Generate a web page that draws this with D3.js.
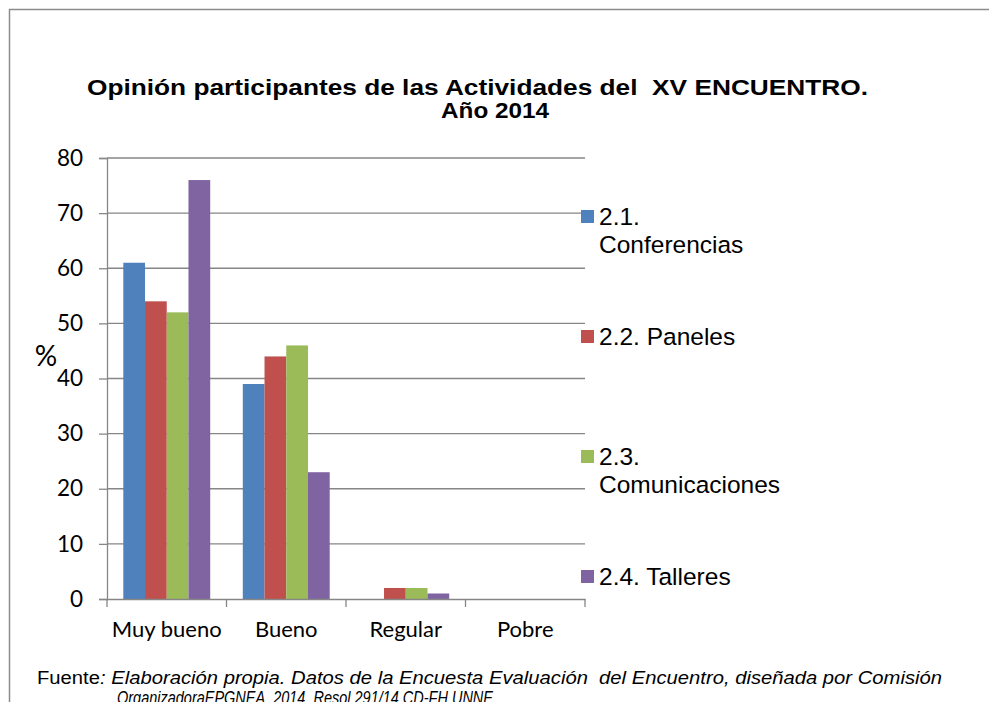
<!DOCTYPE html>
<html>
<head>
<meta charset="utf-8">
<script src="https://cdn.jsdelivr.net/npm/d3@7"></script>
<style>
html,body{margin:0;padding:0;background:#fff;}
svg{display:block;}
text{white-space:pre;}
</style>
</head>
<body>
<svg id="chart" width="989" height="702"></svg>
<script>
const categories = ["Muy bueno", "Bueno", "Regular", "Pobre"];
const seriesNames = ["2.1. Conferencias", "2.2. Paneles", "2.3. Comunicaciones", "2.4. Talleres"];
const legendLines = [["2.1.", "Conferencias"], ["2.2. Paneles"], ["2.3.", "Comunicaciones"], ["2.4. Talleres"]];
const conferencias = [61, 39, 0, 0];
const paneles = [54, 44, 2, 0];
const comunicaciones = [52, 46, 2, 0];
const talleres = [76, 23, 1, 0];
const yTicks = [0, 10, 20, 30, 40, 50, 60, 70, 80];
const colors = ["#4F81BD", "#C0504D", "#9BBB59", "#8064A2"];
const titleLines = ["Opinión participantes de las Actividades del  XV ENCUENTRO.", "Año 2014"];

const series = [conferencias, paneles, comunicaciones, talleres];

const svg = d3.select("#chart");
const W = 989, H = 702;
const pLeft = 107, pRight = 585, pTop = 158, pBottom = 599;

// frame
svg.append("path")
  .attr("d", `M9.5,${H} L9.5,9.5 L${W},9.5`)
  .attr("fill", "none").attr("stroke", "#8c8c8c").attr("stroke-width", 1.5);

// title
const title = svg.append("text")
  .attr("font-family", "Liberation Sans, Arial, sans-serif")
  .attr("font-weight", "bold").attr("font-size", 22.5).attr("fill", "#000");
title.append("tspan").attr("x", 87).attr("y", 95)
  .attr("textLength", 781).attr("lengthAdjust", "spacingAndGlyphs").text(titleLines[0]);
title.append("tspan").attr("x", 441).attr("y", 118)
  .attr("textLength", 108).attr("lengthAdjust", "spacingAndGlyphs").text(titleLines[1]);

const x = d3.scaleBand().domain(categories).range([pLeft, pRight]).paddingInner(0).paddingOuter(0);
const y = d3.scaleLinear().domain([0, 80]).range([pBottom, pTop]);

const bw = x.bandwidth() / 5.5;

// gridlines
svg.append("g").selectAll("line").data(yTicks.filter(d => d !== 0)).join("line")
  .attr("x1", pLeft).attr("x2", pRight)
  .attr("y1", d => y(d)).attr("y2", d => y(d))
  .attr("stroke", "#868686").attr("stroke-width", 1.3);

// y axis
const yAxis = svg.append("g").attr("transform", `translate(${pLeft},0)`)
  .call(d3.axisLeft(y).tickValues(yTicks).tickSize(8).tickPadding(16).tickFormat(d3.format("d")));
yAxis.select(".domain").attr("stroke", "#868686").attr("stroke-width", 1.3);
yAxis.selectAll(".tick line").attr("stroke", "#868686").attr("stroke-width", 1.3);
yAxis.selectAll(".tick text").attr("font-family", "Lato, Carlito, Calibri, sans-serif")
  .attr("font-size", 22.5).attr("fill", "#000");

// bars
const groups = svg.append("g").selectAll("g").data(series).join("g")
  .attr("fill", (d, i) => colors[i]);
groups.selectAll("rect").data((d, i) => d.map((v, j) => ({v, j, i}))).join("rect")
  .attr("x", d => x(categories[d.j]) + bw * 0.75 + d.i * bw)
  .attr("width", bw)
  .attr("y", d => y(d.v))
  .attr("height", d => y(0) - y(d.v));

// x axis
const xAxis = svg.append("g").attr("transform", `translate(0,${pBottom})`)
  .call(d3.axisBottom(x).tickSize(0).tickPadding(22));
xAxis.select(".domain").attr("stroke", "#868686").attr("stroke-width", 1.3);
xAxis.selectAll(".tick text").attr("font-family", "Lato, Carlito, Calibri, sans-serif")
  .attr("font-size", 22).attr("fill", "#000");
// boundary ticks
const bounds = categories.map(c => x(c)).concat([pRight]);
svg.append("g").selectAll("line").data(bounds).join("line")
  .attr("x1", d => d).attr("x2", d => d)
  .attr("y1", pBottom).attr("y2", pBottom + 8)
  .attr("stroke", "#868686").attr("stroke-width", 1.3);

// y label
svg.append("text").attr("x", 46).attr("y", 366).attr("text-anchor", "middle")
  .attr("font-family", "Lato, Carlito, Calibri, sans-serif").attr("font-size", 28).text("%");

// legend
const legendY = [216.5, 336.5, 456.5, 576.5];
const lg = svg.append("g").selectAll("g").data(seriesNames).join("g")
  .attr("transform", (d, i) => `translate(581,${legendY[i]})`);
lg.append("rect").attr("x", 0).attr("y", -6.5).attr("width", 13).attr("height", 13)
  .attr("fill", (d, i) => colors[i]);
lg.each(function(d, i) {
  const t = d3.select(this).append("text")
    .attr("font-family", "Liberation Sans, Arial, sans-serif").attr("font-size", 24.5).attr("fill", "#000");
  legendLines[i].forEach((ln, k) => {
    t.append("tspan").attr("x", 18).attr("y", 8.5 + k * 28).text(ln);
  });
});

// footer
const f1 = svg.append("text").attr("x", 37).attr("y", 684)
  .attr("font-family", "Liberation Sans, Arial, sans-serif").attr("font-size", 18).attr("fill", "#000")
  .attr("textLength", 905).attr("lengthAdjust", "spacingAndGlyphs");
f1.append("tspan").text("Fuente");
f1.append("tspan").attr("font-style", "italic").text(": Elaboración propia. Datos de la Encuesta Evaluación  del Encuentro, diseñada por Comisión");
svg.append("text").attr("x", 117).attr("y", 704)
  .attr("font-family", "Liberation Sans, Arial, sans-serif").attr("font-size", 18.5)
  .attr("font-style", "italic").attr("fill", "#000")
  .attr("textLength", 380).attr("lengthAdjust", "spacingAndGlyphs")
  .text("OrganizadoraEPGNEA, 2014. Resol.291/14 CD-FH.UNNE.");
</script>
</body>
</html>
